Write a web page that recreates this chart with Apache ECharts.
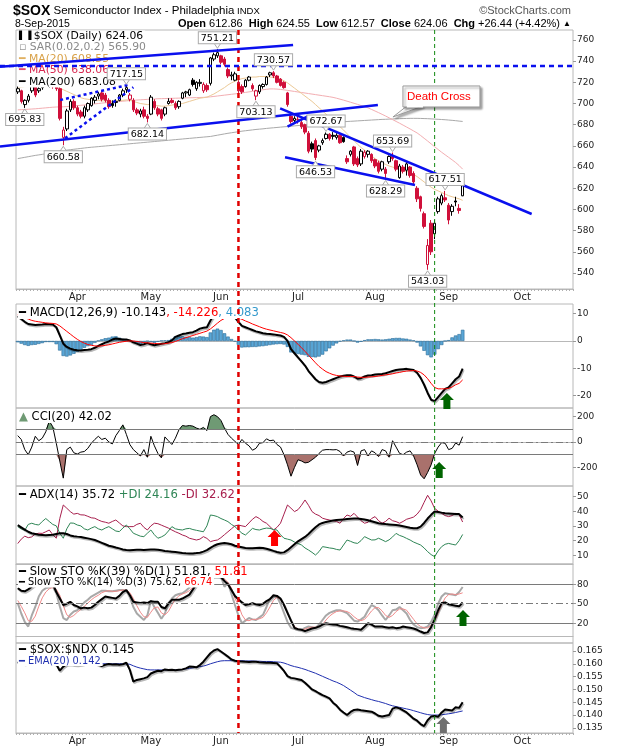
<!DOCTYPE html>
<html>
<head>
<meta charset="utf-8">
<title>$SOX Semiconductor Index</title>
<script src="https://cdn.jsdelivr.net/npm/echarts@6.0.0/dist/echarts.min.js"></script>
<style>
html,body{margin:0;padding:0;background:#fff;}
#chart{width:620px;height:750px;}
</style>
</head>
<body>
<div id="chart"></div>
<script>
// ---------------- categories (trading days) ----------------
const monthNames = ['Mar','Apr','May','Jun','Jul','Aug','Sep','Oct'];
const monthNumbers = [3,4,5,6,7,8,9,10];
const marDays = [9,10,11,12,13,16,17,18,19,20,23,24,25,26,27,30,31];
const aprDays = [1,2,6,7,8,9,10,13,14,15,16,17,20,21,22,23,24,27,28,29,30];
const mayDays = [1,4,5,6,7,8,11,12,13,14,15,18,19,20,21,22,26,27,28,29];
const junDays = [1,2,3,4,5,8,9,10,11,12,15,16,17,18,19,22,23,24,25,26,29,30];
const julDays = [1,2,6,7,8,9,10,13,14,15,16,17,20,21,22,23,24,27,28,29,30,31];
const augDays = [3,4,5,6,7,10,11,12,13,14,17,18,19,20,21,24,25,26,27,28,31];
const sepDays = [1,2,3,4,8,9,10,11,14,15,16,17,18,21,22,23,24,25,28,29,30];
const octDays = [1,2,5,6,7,8,9,12,13,14,15,16,19,20,21];

// ---------------- price (OHLC) ----------------
const priceOpen = [
711,712,699,703,712,716,712,715,720,718,
720,717,714,668,676,694,702,696,692,688,
694,698,703,707,710,708,703,700,701,703,
708,713,704,703,694,690,694,688,690,702,
695,694,690,700,703,700,697,705,710,708,
722,714,719,712,717,719,742,745,745,742,
732,726,722,720,716,716,722,717,707,711,
716,718,727,729,726,723,720,710,688,684,
685,682,680,672,662,665,656,663,667,671,
670,668,670,668,648,652,659,648,643,650,
652,652,647,644,638,638,645,650,646,630,
640,637,640,634,620,612,596,548,587,577,
598,606,611,604,598,608,601,612.86];
const priceHigh = [
716,713,704,709,720,718,719,722,724,723,
722,719,716,678,695,704,704,698,694,698,
701,706,708,711,712,710,705,703,704,709,
714,717.15,710,705,696,695,697,690,708,704,
697,695,697,705,705,702,703,711,712,714,
724,721,723,720,719,744,748,751.21,746,744,
734,730,730,722,718,723,726,719,713,718,
719,726,730,730.57,727,724,721,711,690,688,
688,684,681,674,664,667,661,667,672.67,672,
673,672,671,669,651,656,660,650,657,656,
656,653,648,646,646,640,651,653.69,647,643,
642,645,641,636,622,613,598,572,590,590,
612,615,617.51,606,605,612,605,624.55];
const priceLow = [
709,700,695.83,701,710,706,710,713,716,715,
714,712,684,660.58,674,692,694,688,686,686,
692,697,700,704,702,701,695,696,697,702,
706,710,702,692,689,687,686,682.14,689,694,
688,684,688,699,700,694,695,704,706,707,
716,712,716,710,711,717,740,743,737,735,
724,722,721,710,709,715,721,712,703.13,709,
714,717,725,724,719,716,714,697,681,682,
681,676,671,653,654,646.53,654,661,666,665,
666,666,662,663,643,650,641,640,641,648,
649,644,639,634,636,628.29,643,646,636,629,
634,632,630,624,607,598,582,543.03,557,572,
596,604,607,586,594,603,596,612.57];
const priceClose = [
714,702,703,707,716,708,714,720,718,721,
716,714,686,675,693,702,696,690,688,696,
700,705,706,709,704,703,697,698,702,708,
712,715,708,694,691,693,688,686,706,696,
690,686,696,702,701,696,702,710,711,713,
718,720,720,718,713,743,746,748,739,737,
726,727,728,712,711,722,725,714,712,717,
718,725,729,726,720,717,715,699,683,686,
685,678,673,655,657,649,660,665,671,667,
669,670,663,664,645,655,643,642,655,654,
655,646,641,636,645,634,650,648,638,641,
636,643,632,626,610,601,584,566,560,587,
610,613,609,590,603,607,599,624.06];

const ma20 = [
715,715.5,716,716,716.5,716.5,716.5,717,717,717,
716.5,716,714.5,713,711.5,710,708.5,707,705.5,704.5,
704,703.5,703,703,702.5,702.5,702,702,702.5,703,
703,703.5,703,702,701,700,699.5,699,699,698.5,
698,697.5,697.5,698,698.5,699,699.5,700,701,702,
703,704,705,705.5,706,707.5,709,711,713,715,
717.5,719.5,721,722.5,723.5,724,724.5,725,725,725.5,
725.5,725.5,725,724.5,724,723,721.5,719.5,717,714.5,
712,709.5,707,704.5,702,699,696,693,690,687,
684,681,678,675,671.5,668,665,661.5,658.5,656,
653,650.5,648,646,644,642.5,641,640,639,638,
637,636,634.5,633,631,628.5,626,623.5,621,619,
617.5,616,614.5,613,612,611,610,608.55];
const ma50 = [
694,694.2,694.4,694.6,694.8,695,695.3,695.6,695.9,696.2,
696.5,696.7,696.8,696.9,697.1,697.4,697.7,698,698.3,698.6,
699,699.3,699.7,700,700.4,700.7,701,701.3,701.6,701.9,
702.2,702.5,702.8,703,703.3,703.5,703.7,703.9,704.1,704.3,
704.5,704.6,704.7,704.8,704.9,705,705.1,705.2,705.3,705.4,
705.5,705.6,705.7,705.8,706,706.3,706.7,707.1,707.5,707.9,
708.3,708.7,709.1,709.5,710,710.5,711,711.5,712,712.5,
713,713.4,713.8,713.8,713.6,713.3,712.9,712.4,711.9,711.4,
710.9,710.4,709.9,709.4,708.9,708.4,707.9,707.4,706.9,706.4,
705.8,705,704.1,703.2,702.2,701.2,700.2,699.2,698.1,697,
695.9,694.4,692.9,691.4,689.8,688.2,686.5,684.8,683.1,681.4,
679.6,677.8,676,674.1,672.2,669.8,667.2,664.6,661.9,659.2,
656.6,654,651.6,649.2,646.8,644.3,641.4,638.06];
const ma200 = [
648,648.6,649.2,649.8,650.4,651,651.5,652,652.6,653.2,
653.8,654.4,655,655.6,656,656.4,656.8,657.2,657.6,658,
658.4,658.7,659,659.3,659.6,659.9,660.2,660.5,660.8,661.1,
661.4,661.7,662,662.3,662.6,662.9,663.2,663.5,663.8,664.1,
664.4,664.7,665,665.3,665.6,665.9,666.2,666.5,666.8,667.1,
667.4,667.7,668,668.3,668.6,668.9,669.5,670.1,670.7,671.3,
671.9,672.4,672.9,673.4,673.9,674.3,674.7,675.1,675.5,675.8,
676.1,676.5,676.8,677.1,677.4,677.7,678,678.3,678.6,678.9,
679.2,679.5,679.8,680.1,680.4,680.7,681,681.3,681.5,681.8,
682,682.3,682.5,682.8,683,683.2,683.4,683.6,683.8,684,
684.2,684.4,684.6,684.8,685,685.1,685.3,685.4,685.6,685.7,
685.8,685.9,686,686,686,685.9,685.8,685.7,685.5,685.3,
685.1,684.9,684.7,684.4,684.1,683.8,683.4,683.08];

// ---------------- MACD ----------------
const macdLine = [
9,8,7,6.2,6,5.8,5.9,6,6.2,6.1,
6,5,2,-1,-2.2,-2.8,-3.2,-3.4,-3.5,-3.3,
-3.2,-3,-2.5,-1.8,-1.2,-0.6,-0.2,0.5,0.9,0.7,
0.5,0.5,0.2,-0.5,-1,-1.5,-1.2,-0.8,-1.2,-1.6,
-1.3,-1,-0.8,-0.5,0.2,1.5,2,2.5,2.7,3,
3.2,3.8,4.5,4.8,5,7.5,9.5,11,11.5,11,
10.2,9.5,8.6,7,5.5,5,4.5,4,3.5,3.2,
2.8,2.6,2.5,2.4,2.2,2,1.5,0,-3,-4.5,
-6,-7.5,-9,-11,-12.5,-14,-15,-15.3,-15,-14.5,
-14,-13.5,-13,-12.7,-12.5,-12.5,-13,-13.8,-13.6,-13,
-12.6,-12.5,-12.3,-12.2,-12.1,-11.8,-11.4,-11,-10.6,-10.4,
-10.3,-10.2,-10.4,-10.6,-11.6,-13.5,-16,-19,-21.5,-22,
-20.5,-19,-17.5,-17,-15.5,-14,-13,-10.14];
const macdSignal = [
9.5,9,8.5,8,7.5,7.2,7,6.8,6.6,6.5,
6.4,6.2,5.5,4.5,3.5,2.5,1.5,0.6,-0.2,-0.8,
-1.3,-1.6,-1.8,-1.9,-1.8,-1.6,-1.4,-1.1,-0.8,-0.5,
-0.3,-0.1,0,0,-0.2,-0.4,-0.6,-0.7,-0.8,-0.9,
-1,-1.1,-1,-0.8,-0.6,-0.2,0.3,0.8,1.2,1.6,
2,2.4,2.8,3.2,3.6,4.4,5.4,6.5,7.5,8.2,
8.6,8.8,8.8,8.4,7.9,7.3,6.8,6.2,5.7,5.2,
4.7,4.3,4,3.7,3.4,3.1,2.8,2.2,1.2,0,
-1.2,-2.5,-3.8,-5.2,-6.6,-8,-9.3,-10.3,-11.2,-11.8,
-12.3,-12.6,-12.8,-12.9,-13,-13,-13,-13.2,-13.3,-13.3,
-13.2,-13.1,-13,-12.8,-12.6,-12.4,-12.2,-12,-11.7,-11.5,
-11.2,-11,-10.9,-10.8,-11,-11.5,-12.4,-13.8,-15.5,-17,
-17.5,-17.5,-17.5,-17.3,-16.8,-16,-15.5,-14.23];
const macdHist = [
-0.5,-1,-1.5,-1.8,-1.5,-1.4,-1.1,-0.8,-0.4,-0.4,
-0.4,-1.2,-3.5,-5.5,-5.7,-5.3,-4.7,-4,-3.3,-2.5,
-1.9,-1.4,-0.7,0.1,0.6,1,1.2,1.6,1.7,1.2,
0.8,0.6,0.2,-0.5,-0.8,-1.1,-0.6,-0.1,-0.4,-0.7,
-0.3,0.1,0.2,0.3,0.8,1.7,1.7,1.7,1.5,1.4,
1.2,1.4,1.7,1.6,1.4,3.1,4.1,4.5,4,2.8,
1.6,0.7,-0.2,-1.4,-2.4,-2.3,-2.3,-2.2,-2.2,-2,
-1.9,-1.7,-1.5,-1.3,-1.2,-1.1,-1.3,-2.2,-4.2,-4.5,
-4.8,-5,-5.2,-5.8,-5.9,-6,-5.7,-5,-3.8,-2.7,
-1.7,-0.9,-0.2,0.2,0.5,0.5,0,-0.6,-0.3,0.3,
0.6,0.6,0.7,0.6,0.5,0.6,0.8,1,1.1,1.1,
0.9,0.8,0.5,0.2,-0.6,-2,-3.6,-5.2,-6,-5,
-3,-1.5,0,0.3,1.3,2,2.5,4.08];

// ---------------- CCI ----------------
const cci = [
50,20,-60,-100,-40,45,10,30,80,165,
120,-10,-150,-285,-60,-40,-85,-95,-80,-75,
-50,-10,20,45,20,30,0,-15,50,90,
135,60,-20,-60,-85,-110,-60,-120,45,-30,
-90,-125,40,10,-20,30,95,130,125,130,
125,110,100,115,90,200,215,200,170,110,
60,30,5,-20,20,-10,-30,-65,-50,-10,
-5,25,10,15,-20,-40,-100,-180,-270,-200,
-140,-150,-165,-160,-140,-120,-90,-65,-60,-60,
-62,-60,-75,-110,-80,-70,-80,-185,-70,-60,
-110,-70,-85,-115,-60,-70,-120,10,-40,-90,
-100,-80,-70,-110,-180,-260,-290,-240,-180,-90,
-40,-5,-10,-60,-50,-8,-25,42.02];

// ---------------- ADX ----------------
const adx = [
30.5,29,27.5,26,25,24.5,24,23.8,23.6,23.8,
24,24.5,25,25,24.5,23.5,23,22.7,22.5,22,
21.5,21,20.4,19.5,18.5,17.5,16.5,16,15.3,14.7,
14,13.6,13.5,13.6,13.7,13.7,13.6,13.8,14,14,
13.8,13.4,13,12.7,12.5,12.2,11.9,11.6,11.4,11.3,
11.3,11.5,11.8,12.5,13.5,15,16.5,17.5,18,18.3,
18,17.5,16.5,16,15.5,15,14.8,14.8,15,15.2,
15,14.5,13.8,13,12.3,11.8,12,13.5,15.5,17.5,
19.5,21,22.5,24.5,26.8,29,31,32,32.7,33.2,
33.6,34,34.2,34.4,34.6,34.8,35,35,34.7,34.3,
33.8,33.2,32.5,31.8,31.5,31.2,31,30.8,30.6,30.2,
29.7,29.2,28.7,28.4,28.4,29.5,32,35,37.5,39.7,
39.5,39,38.6,38.4,38.2,38,38,35.72];
const plusDI = [
29.5,28,27,31,31.8,31,30.6,33,35,33,
31,30,25,21.6,28,32,31.8,30.6,30,28,
27.2,28.5,29.5,28,27.2,28.5,29.5,28,26.5,26.1,
28.5,30.6,28,25,24,23,22.7,25,27.2,24,
21.6,22.5,23.8,26.5,29.5,28,27.5,27.2,28,28.3,
27.5,27,26.5,26,30,37.4,37,36.3,35,34,
32.9,31,29.5,27.2,25,23.8,26,28.3,27.5,27.2,
28,28.5,28.3,27.5,27.2,24,21.6,21,20.4,19,
18,17,15,13.6,12,10.2,12.5,15.9,15.5,15,
14.7,14,13.6,17,20.4,19.5,18.5,18.1,20,22.7,
21.5,20.4,20.5,21.6,20.5,19.3,20.5,22.5,24.9,23.5,
22.7,21.5,20.4,19,18,17,15,12.5,10.5,9.1,
13,15.9,17.5,18.1,17.5,17,20,24.16];
const minusDI = [
18,21,23,22,22.5,24.5,25,24.9,26,27.2,
24,21.6,35,44.2,42,39.7,38,38.5,37.5,37.4,
36.5,35.5,35.2,34,33,32.5,31.8,33,34,32,
30,29.5,29.5,29.5,31,31.8,29,27.2,30,31.8,
31.5,30.5,29.5,28.5,27.2,26,25,23.8,23,21.6,
21,20.4,21,22.7,21.5,19.3,20,20.4,22,24,
26,28,30,30.6,30,29.5,32,34.5,36.3,35,
33,31.8,29.5,27.2,29,31.8,38,44.2,42,39.7,
41,44,47.6,44,39.7,38,37,35.2,34.5,34,
33.5,33,31.8,35,37.4,36.5,38.5,36,33.5,31.8,
32.5,35,36.3,33.5,31.8,33,35.2,33.5,32.9,31.8,
33,34.5,35.2,36,38,41,46,50.8,47,41.9,
40,38.5,37,36.3,37,38.5,37.5,32.62];

// ---------------- Slow stochastics ----------------
const stoK39 = [
74,70,69,72,76,80,84,86,86,84,
80,68,58,48,50,53,48,46,43,44,
43,44,48,53,57,61,60,59,58,62,
68,71,63,53,52,51,52,51,54,53,
53,45,43,50,56,56,56,58,61,64,
72,80,86,88,88,90,92,92,91,85,
80,71,62,57,52,48,49,51,49,48,
50,54,57,63,62,58,48,36,24,13,
11,10,8,10,12,13,15,18,20,19,
18,17.6,16,15,14,12.5,11.5,11,10,15,
20,18,15,15,15,14,13,14,12.5,13,
15,14,13,12,10,7.3,5,6,14,26,
40,51,52,49,48,47,46,51.81];
const stoK14 = [
51,35,22,15,32,45,61,70,74,75,
76,66,46,28,25,33,38,40,46,52,
56,61,64,67,70,70,69,69,70,71,
71,70,60,45,35,30,25,32,55,45,
36,27,35,51,58,63,65,66,70,75,
82,89,93,94,94,95,96,96,92,76,
82,65,48,32,20,24,28,26,25,29,
33,45,58,61,61,50,36,22,13,11,
10,10,13,15,14,12.5,18,25,32,36,
38,40,40,38,35.5,30,24,22.6,26,30,
40,48,45,40,32,25,32,40,41,45,
40,35,25,18,14,12.5,13,15,22,33,
50,61,66,65,64,63,68,75.62];
const stoD3 = [
55,46,36,24,23,31,46,59,68,73,
75,72,63,47,33,29,32,37,41,46,
51,56,60,63,67,69,70,69,69,70,
71,71,67,58,47,37,30,29,37,44,
45,36,33,38,48,57,62,65,67,70,
76,82,88,92,94,94,95,96,95,88,
83,74,58,48,33,25,24,26,26,27,
29,36,45,55,60,57,49,36,24,15,
11,10,11,13,14,14,15,18,25,31,
35,38,39,39,38,35,30,26,24,26,
32,39,44,44,39,32,29,32,38,42,
42,40,33,26,19,15,13,13,17,23,
35,48,59,64,65,64,65,66.74];

// ---------------- $SOX:$NDX ratio ----------------
const ratio = [
0.1606,0.1603,0.1600,0.1604,0.1607,0.1603,0.1605,0.1607,0.1606,0.1604,
0.1602,0.1598,0.1573,0.1589,0.1598,0.1600,0.1597,0.1596,0.1598,0.1601,
0.1603,0.1604,0.1604,0.1597,0.1591,0.1596,0.1599,0.1597,0.1598,0.1596,
0.1598,0.1604,0.1576,0.1530,0.1537,0.1540,0.1543,0.1548,0.1562,0.1568,
0.1573,0.1571,0.1578,0.1576,0.1577,0.1575,0.1577,0.1578,0.1582,0.1589,
0.1588,0.1586,0.1595,0.1608,0.1625,0.1641,0.1652,0.1657,0.1648,0.1638,
0.1628,0.1617,0.1612,0.1610,0.1609,0.1608,0.1607,0.1608,0.1608,0.1606,
0.1605,0.1604,0.1604,0.1603,0.1602,0.1588,0.1572,0.1552,0.1545,0.1543,
0.1540,0.1537,0.1526,0.1513,0.1500,0.1493,0.1485,0.1478,0.1472,0.1465,
0.1448,0.1437,0.1421,0.1410,0.1400,0.1412,0.1420,0.1422,0.1419,0.1417,
0.1415,0.1413,0.1406,0.1397,0.1394,0.1397,0.1400,0.1425,0.1430,0.1426,
0.1418,0.1410,0.1398,0.1386,0.1378,0.1365,0.1357,0.1380,0.1394,0.1396,
0.1393,0.1410,0.1422,0.1420,0.1418,0.1430,0.1428,0.1450];
const ratioEma = [
0.1604,0.1604,0.1604,0.1604,0.1604,0.1604,0.1604,0.1604,0.1604,0.1604,
0.1604,0.1604,0.1601,0.1600,0.1600,0.1600,0.1600,0.1600,0.1600,0.1600,
0.1600,0.1601,0.1601,0.1601,0.1600,0.1600,0.1600,0.1600,0.1600,0.1600,
0.1600,0.1600,0.1598,0.1592,0.1587,0.1583,0.1580,0.1577,0.1576,0.1576,
0.1576,0.1576,0.1576,0.1576,0.1576,0.1576,0.1576,0.1578,0.1580,0.1582,
0.1584,0.1586,0.1589,0.1591,0.1595,0.1600,0.1604,0.1608,0.1611,0.1612,
0.1612,0.1612,0.1612,0.1612,0.1612,0.1611,0.1611,0.1611,0.1610,0.1610,
0.1609,0.1609,0.1609,0.1608,0.1607,0.1606,0.1603,0.1598,0.1593,0.1589,
0.1586,0.1582,0.1578,0.1573,0.1568,0.1563,0.1557,0.1551,0.1545,0.1539,
0.1533,0.1528,0.1522,0.1515,0.1506,0.1497,0.1488,0.1478,0.1473,0.1468,
0.1464,0.1460,0.1456,0.1453,0.1449,0.1445,0.1440,0.1436,0.1433,0.1430,
0.1427,0.1424,0.1421,0.1417,0.1413,0.1409,0.1405,0.1402,0.1400,0.1400,
0.1400,0.1401,0.1403,0.1405,0.1407,0.1410,0.1413,0.1416];

// ---------------- axis tick labels ----------------
const priceTicks = [540,560,580,600,620,640,660,680,700,720,740,760];
const macdTicks = [-20,-10,0,10];
const cciTicks = [-200,0,200];
const adxTicks = [10,20,30,40,50];
const stoTicks = [20,50,80];
const ratioTicks = [0.135,0.140,0.145,0.150,0.155,0.160,0.165];
const cciBands = [100,-100];
const stoBands = [80,20];

// ---------------- annotations (data coordinates: [trading-day index, value]) ----------------
const channelUpper = [[-5.07,734.8],[78.6,755.3]];
const channelLower = [[-5.07,659.3],[102.8,698.6]];
const resistanceLine = [[-5.07,735.4],[158.5,735.4]];
const wedgeUpper = [[12.1,703.3],[31.5,717.5]];
const wedgeLower = [[13.5,667.2],[33,715.3]];
const fallingUpper = [[74.9,695.5],[146.7,595.7]];
const fallingLower = [[76.3,649.2],[113.4,623.1]];
const crossLine = [[77,678.1],[82.9,688.2]];
const redMarkerDate = '2015-06-08';
const greenMarkerDate = '2015-08-26';
const priceCallouts = [
  [57,751.21,'up'],[31,717.15,'up'],[2,695.83,'down'],[13,660.58,'down'],
  [37,682.14,'down'],[68,703.13,'down'],[73,730.57,'up'],[88,672.67,'up'],
  [85,646.53,'down'],[107,653.69,'up'],[105,628.29,'down'],[122,617.51,'up'],
  [117,543.03,'down']
];
const deathCross = [107.1,687.3];
const arrowMarks = [
  [1,122.5,-19,'#006400'],
  [2,120.3,-158,'#006400'],
  [3,73.3,27.2,'#ff0000'],
  [4,127.1,40.5,'#006400'],
  [5,121.5,0.13922,'#707070']
];

// ---------------- build ----------------
const pad = n => (n < 10 ? '0' : '') + n;
const dates = [];
const monthStart = {};
[marDays,aprDays,mayDays,junDays,julDays,augDays,sepDays,octDays].forEach((days, m) => {
  days.forEach((d, k) => {
    const s = '2015-' + pad(monthNumbers[m]) + '-' + pad(d);
    dates.push(s);
    if (k === 0 && m > 0) monthStart[s] = monthNames[m];
  });
});

const RED = '#d0103a';
const AXIS_FONT = 'DejaVu Sans';
const gridBoxes = [[30,259],[304,104],[408,78],[486,78],[564,79],[643,90]];
const grids = gridBoxes.map(b => ({left:16, right:47, top:b[0], height:b[1], show:true,
  borderColor:'#b8b8b8', borderWidth:1, backgroundColor:'rgba(0,0,0,0)'}));

function xAxisFor(i, labels) {
  return {type:'category', gridIndex:i, data:dates, boundaryGap:true,
    axisLine:{show:true, lineStyle:{color:'#b8b8b8'}},
    axisTick:{show:labels, interval:0, length:2, lineStyle:{color:'#b0b0b0'}},
    axisLabel:{show:labels, interval:(idx, val) => !!monthStart[val],
      formatter:(val) => monthStart[val] || '', color:'#222', fontSize:10, margin:3, fontFamily:AXIS_FONT},
    splitLine:{show:false}};
}
function yAxisFor(i, min, max, ticks, fmt) {
  return {type:'value', gridIndex:i, position:'right', min:min, max:max,
    splitLine:{show:false}, axisLine:{show:false},
    axisTick:{show:true, length:3, lineStyle:{color:'#999'}, customValues:ticks},
    axisLabel:{customValues:ticks, color:'#222', fontSize:9, margin:4, fontFamily:AXIS_FONT,
      formatter: fmt || (v => String(v))}};
}

const candleData = priceClose.map((c, i) => {
  const o = priceOpen[i];
  const down = i > 0 ? c < priceClose[i-1] : c < o;
  const col = down ? RED : '#000';
  const fill = c > o ? '#fff' : col;
  return {value:[o, c, priceLow[i], priceHigh[i]],
    itemStyle:{color:fill, color0:fill, borderColor:col, borderColor0:col, borderWidth:1}};
});

const thick = (color) => ({width:2, color:color, shadowColor:'rgba(0,0,0,0.28)', shadowOffsetX:1, shadowOffsetY:1.5, shadowBlur:0});
const lineS = (name, gi, data, lineStyle, z, extra) => Object.assign({
  name:name, type:'line', xAxisIndex:gi, yAxisIndex:gi, data:data, symbol:'none',
  showSymbol:false, lineStyle:lineStyle, z:z || 2, silent:true, animation:false}, extra || {});

const bandLine = (v, dashed) => ({yAxis:v, lineStyle:{color:'#7a7a7a', width:1, type: dashed ? [7,3,2,3] : 'solid'}});

const cciHiBase = cci.map(() => cciBands[0]);
const cciHiFill = cci.map(v => Math.max(v - cciBands[0], 0));
const cciLoBase = cci.map(() => cciBands[1]);
const cciLoFill = cci.map(v => Math.min(v - cciBands[1], 0));

const option = {
  animation:false,
  backgroundColor:'#fff',
  grid:grids,
  xAxis:[0,1,2,3,4,5].map(i => xAxisFor(i, i === 0 || i === 5)),
  yAxis:[
    yAxisFor(0, 524.9, 769.4, priceTicks),
    yAxisFor(1, -24.5, 13.5, macdTicks),
    yAxisFor(2, -347, 268, cciTicks),
    yAxisFor(3, 4.1, 57.1, adxTicks),
    yAxisFor(4, -10.3, 111, stoTicks),
    yAxisFor(5, 0.1330, 0.1681, ratioTicks, v => v.toFixed(3))
  ],
  series:[
    lineS('MA(200)',0,ma200,{color:'#a9a9a9', width:1},1),
    lineS('MA(50)',0,ma50,{color:'#f3aeb2', width:1},1),
    lineS('MA(20)',0,ma20,{color:'#ecc996', width:1},1),
    {name:'$SOX', type:'candlestick', xAxisIndex:0, yAxisIndex:0, data:candleData, barWidth:3, z:3, silent:true, animation:false},

    {name:'Histogram', type:'bar', xAxisIndex:1, yAxisIndex:1, data:macdHist, barCategoryGap:'0%', barGap:'0%',
      itemStyle:{color:'#5aa6d6', borderColor:'#2a6c98', borderWidth:0.6}, silent:true, z:1, animation:false},
    lineS('MACD',1,macdLine,thick('#000'),3),
    lineS('Signal',1,macdSignal,{color:'#ff0000', width:1},4),

    lineS('cciHiBase',2,cciHiBase,{width:0, opacity:0},1,{stack:'hi', stackStrategy:'all'}),
    lineS('cciHiFill',2,cciHiFill,{width:0, opacity:0},1,{stack:'hi', stackStrategy:'all', areaStyle:{color:'#6f9a74', opacity:1}}),
    lineS('cciLoBase',2,cciLoBase,{width:0, opacity:0},1,{stack:'lo', stackStrategy:'all'}),
    lineS('cciLoFill',2,cciLoFill,{width:0, opacity:0},1,{stack:'lo', stackStrategy:'all', areaStyle:{color:'#a9716c', opacity:1}}),
    lineS('CCI',2,cci,{color:'#000', width:1},3,{markLine:{silent:true, symbol:'none', label:{show:false},
      data:[bandLine(cciBands[0]), bandLine(cciBands[1]), bandLine(0,true)]}}),

    lineS('-DI',3,minusDI,{color:'#a8204e', width:1},2),
    lineS('+DI',3,plusDI,{color:'#2e8555', width:1},2),
    lineS('ADX',3,adx,thick('#000'),3),

    lineS('%K14',4,stoK14,{color:'#a8a8a8', width:2},2,{markLine:{silent:true, symbol:'none', label:{show:false},
      data:[bandLine(stoBands[0]), bandLine(stoBands[1]), bandLine(50,true)]}}),
    lineS('%D3',4,stoD3,{color:'#f08a8a', width:1},3),
    lineS('%K39',4,stoK39,thick('#000'),4),

    lineS('EMA(20)',5,ratioEma,{color:'#2030b0', width:1},2),
    lineS('$SOX:$NDX',5,ratio,thick('#000'),3)
  ]
};

const chart = echarts.init(document.getElementById('chart'), null, {renderer:'canvas'});
chart.setOption(option);

// ---------------- overlays positioned through the chart's own scales ----------------
const X = (gi, i) => {
  const a = Math.floor(i), f = i - a;
  const p0 = chart.convertToPixel({xAxisIndex:gi}, a);
  if (!f) return p0;
  const p1 = chart.convertToPixel({xAxisIndex:gi}, a + 1);
  return p0 + f * (p1 - p0);
};
const Y = (gi, v) => chart.convertToPixel({yAxisIndex:gi}, v);
const P = (gi, pt) => [X(gi, pt[0]), Y(gi, pt[1])];

const g = [];
function txt(x, y, parts, opts) {
  opts = opts || {};
  const rich = {};
  let s = '';
  parts.forEach((p, k) => {
    const key = 't' + k;
    rich[key] = {fill:p[1] || '#000', color:p[1] || '#000', fontSize:p[3] || opts.size || 11,
      fontFamily:opts.family || 'DejaVu Sans', fontWeight:p[2] ? 'bold' : 'normal'};
    s += '{' + key + '|' + p[0] + '}';
  });
  g.push({type:'text', z:opts.z || 50, silent:true, x:x, y:y,
    style:{text:s, rich:rich, align:opts.align || 'left', textAlign:opts.align || 'left',
      verticalAlign:'middle', textVerticalAlign:'middle',
      backgroundColor:opts.bg || null, padding:opts.padding || [0,2,0,1],
      fontSize:opts.size || 11, fontFamily:opts.family || 'DejaVu Sans'}});
}

// header
txt(12, 11, [['$SOX','#000',true,14],[' Semiconductor Index - Philadelphia','#000',false,11.5],[' INDX','#000',false,9.5]], {family:'Liberation Sans'});
txt(14, 24, [['8-Sep-2015','#000',false,10.5]], {family:'Liberation Sans'});
txt(573, 24, [['Open','#000',true],[' 612.86  '],['High','#000',true],[' 624.55  '],['Low','#000',true],[' 612.57  '],
  ['Close','#000',true],[' 624.06  '],['Chg','#000',true],[' +26.44 (+4.42%) '],['\u25B2','#000',false,8]],
  {family:'Liberation Sans', align:'right', size:11});
txt(573, 11, [['\u00A9StockCharts.com','#555',false,11]], {family:'Liberation Sans', align:'right'});

// panel legends (white background hides lines beneath, as in the original)
const LP = {bg:'#fff', size:10.8};
const LG = {bg:'#fff', size:11.6};
const LS = {bg:'#fff', size:9.8};
txt(18, 36, [['\u258C\u2590 ','#000',false,8],['$SOX (Daily) 624.06']], LP);
txt(18, 47.5, [['\u25AB ','#999'],['SAR(0.02,0.2) 565.90','#8a8a8a']], LP);
txt(18, 59, [['\u2501 ','#e0b060'],['MA(20) 608.55','#d9a24a']], LP);
txt(18, 70.5, [['\u2501 ','#e24a6a'],['MA(50) 638.06','#d8264f']], LP);
txt(18, 82, [['\u2501 ','#000'],['MA(200) 683.08']], LP);
txt(18, 313, [['\u2501 ','#000'],['MACD(12,26,9) -10.143'],[', -14.226','#ff0000'],[', 4.083','#3399cc']], LG);
txt(18, 417, [['\u25B2 ','#6f9a74'],['CCI(20) 42.02']], LG);
txt(18, 495, [['\u2501 ','#000'],['ADX(14) 35.72 '],['+DI 24.16 ','#2e8555'],['-DI 32.62','#a8204e']], LG);
txt(18, 572, [['\u2501 ','#000'],['Slow STO %K(39) %D(1) 51.81, '],['51.81','#ff0000']], LG);
txt(18, 582.5, [['\u2501 ','#000'],['Slow STO %K(14) %D(3) 75.62, '],['66.74','#ff0000']], LS);
txt(18, 650, [['\u2501 ','#000'],['$SOX:$NDX 0.145']], LG);
txt(18, 661, [['\u2501 ','#2030b0'],['EMA(20) 0.142','#2030b0']], LS);

// trend lines
function seg(pts, color, width, dash, z) {
  const a = P(0, pts[0]), b = P(0, pts[1]);
  g.push({type:'line', z:z || 60, silent:true, shape:{x1:a[0], y1:a[1], x2:b[0], y2:b[1]},
    style:{stroke:color, lineWidth:width, lineDash:dash || null, lineCap:'butt'}});
}
const BLUE = '#0a10ee';
seg(channelUpper, BLUE, 2.5);
seg(channelLower, BLUE, 2.5);
seg(resistanceLine, BLUE, 2.5, [5,4]);
seg(wedgeUpper, BLUE, 2.5, [3,3]);
seg(wedgeLower, BLUE, 2.5, [3,3]);
seg(fallingUpper, BLUE, 2.5);
seg(fallingLower, BLUE, 2.5);
seg(crossLine, BLUE, 2.5);

// vertical event markers spanning all panels
function vmark(date, color, width, dash) {
  const x = chart.convertToPixel({xAxisIndex:0}, date);
  g.push({type:'line', z:58, silent:true, shape:{x1:x, y1:30, x2:x, y2:733},
    style:{stroke:color, lineWidth:width, lineDash:dash}});
}
vmark(redMarkerDate, '#e00000', 2.5, [5,4]);
vmark(greenMarkerDate, '#118811', 1, [4,3]);

// price callouts
priceCallouts.forEach(c => {
  const p = P(0, [c[0], c[1]]);
  const up = c[2] === 'up';
  const ty = up ? p[1] - 6 : p[1] + 6;
  g.push({type:'polygon', z:62, silent:true,
    shape:{points: up ? [[p[0]-4,ty-1],[p[0]+4,ty-1],[p[0],p[1]-1]] : [[p[0]-4,ty+1],[p[0]+4,ty+1],[p[0],p[1]+1]]},
    style:{fill:'#fff', stroke:'#aaa', lineWidth:1}});
  g.push({type:'text', z:63, silent:true, x:p[0], y:ty,
    style:{text:c[1].toFixed(2), fontSize:9.5, fontFamily:'DejaVu Sans', fill:'#000',
      align:'center', textAlign:'center', verticalAlign: up ? 'bottom' : 'top', textVerticalAlign: up ? 'bottom' : 'top',
      backgroundColor:'#fff', borderColor:'#aaa', borderWidth:1, padding:[1,2,0,2]}});
});

// death cross callout
(function () {
  const p = P(0, deathCross);
  g.push({type:'polygon', z:64, silent:true,
    shape:{points:[[p[0]+14,p[1]-11],[p[0]+30,p[1]-11],[p[0],p[1]]]},
    style:{fill:'#fff', stroke:'#999', lineWidth:1, shadowColor:'rgba(0,0,0,0.3)', shadowOffsetX:2, shadowOffsetY:2, shadowBlur:2}});
  g.push({type:'rect', z:65, silent:true,
    shape:{x:p[0]+10, y:p[1]-31, width:77, height:21},
    style:{fill:'#fff', stroke:'#999', lineWidth:1, shadowColor:'rgba(0,0,0,0.35)', shadowOffsetX:2, shadowOffsetY:2, shadowBlur:2}});
  g.push({type:'rect', z:66, silent:true, shape:{x:p[0]+14, y:p[1]-11.5, width:16, height:2}, style:{fill:'#fff'}});
  g.push({type:'text', z:67, silent:true, x:p[0]+14, y:p[1]-20.5,
    style:{text:'Death Cross', fontSize:11.5, fontFamily:'Liberation Sans', fill:'#ff0000',
      align:'left', textAlign:'left', verticalAlign:'middle', textVerticalAlign:'middle'}});
})();

// arrows
arrowMarks.forEach(a => {
  const x = X(a[0], a[1]), y = Y(a[0], a[2]);
  g.push({type:'polygon', z:61, silent:true,
    shape:{points:[[x,y],[x+7,y+7],[x+3.5,y+7],[x+3.5,y+16],[x-3.5,y+16],[x-3.5,y+7],[x-7,y+7]]},
    style:{fill:a[3]}});
});

chart.setOption({graphic:{elements:g}});
</script>
</body>
</html>
